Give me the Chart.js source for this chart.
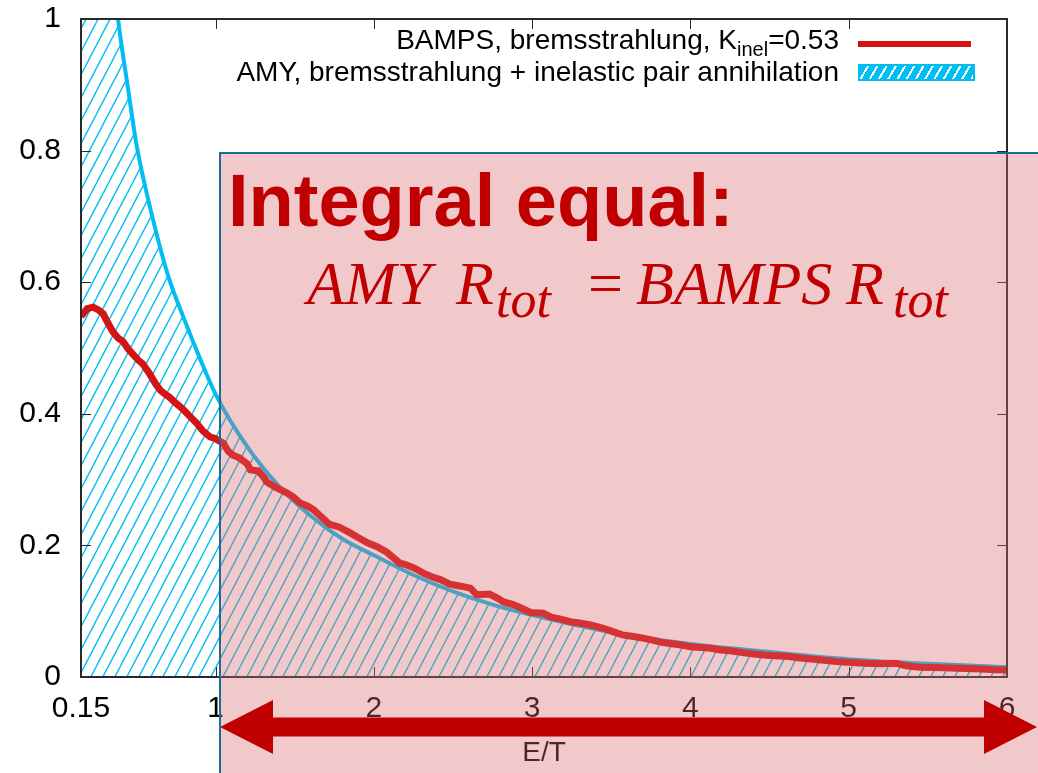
<!DOCTYPE html>
<html>
<head>
<meta charset="utf-8">
<script src="https://cdn.jsdelivr.net/npm/chart.js@4.4.1/dist/chart.umd.min.js"></script>
<style>
html, body { margin: 0; padding: 0; background: #fff; overflow: hidden; }
#wrap { position: relative; width: 1038px; height: 773px; }
#chart { position: absolute; left: 0; top: 0; }
.leg { position: absolute; right: 199px; font-family: "Liberation Sans", Arial, sans-serif; font-size: 28px; line-height: 1; color: #000; white-space: nowrap; }
.leg .sub { font-size: 20px; position: relative; top: 7px; }
.swatch { position: absolute; left: 858px; width: 113px; }
#sw1 { top: 41px; height: 6px; background: #d41414; }
#sw2 { top: 64px; height: 13px; border: 2px solid #00bdf2; background: repeating-linear-gradient(120deg, #00bdf2 0 6px, #fff 6px 8px); }
.big { position: absolute; left: 228px; top: 164px; font-family: "Liberation Sans", Arial, sans-serif; font-weight: bold; font-size: 74px; line-height: 1; color: #c00000; white-space: nowrap; }
.f { position: absolute; font-family: "Liberation Serif", "DejaVu Serif", serif; font-style: italic; font-size: 62px; line-height: 1; color: #c00000; white-space: nowrap; top: 252px; }
.f.s { font-size: 52px; top: 274px; }
.f.eq { font-style: normal; }
</style>
</head>
<body>
<div id="wrap">
  <canvas id="chart" width="1038" height="773"></canvas>
  <div class="leg" style="top:26px">BAMPS, bremsstrahlung, K<span class="sub">inel</span>=0.53</div>
  <div class="leg" style="top:58px">AMY, bremsstrahlung + inelastic pair annihilation</div>
  <div class="swatch" id="sw1"></div>
  <div class="swatch" id="sw2"></div>
  <div class="big">Integral equal:</div>
  <div class="f" style="left:307px">AMY</div>
  <div class="f" style="left:456px">R</div>
  <div class="f s" style="left:496px">tot</div>
  <div class="f eq" style="left:588px">=</div>
  <div class="f" style="left:636px">BAMPS</div>
  <div class="f" style="left:846px">R</div>
  <div class="f s" style="left:893px">tot</div>
</div>
<script>
// AMY curve (bremsstrahlung + inelastic pair annihilation)
const amyX = [0.15, 0.2, 0.25, 0.3, 0.35, 0.384, 0.45, 0.5, 0.6, 0.7, 0.8, 0.9, 1.0, 1.2, 1.4, 1.6, 1.8, 2.0, 2.25, 2.5, 2.75, 3.0, 3.5, 4.0, 4.5, 5.0, 5.5, 6.0];
const amyY = [2.1, 1.68, 1.4, 1.22, 1.08, 1.0, 0.89, 0.81, 0.70, 0.61, 0.545, 0.485, 0.43, 0.35, 0.29, 0.245, 0.21, 0.185, 0.155, 0.13, 0.11, 0.094, 0.068, 0.05, 0.038, 0.027, 0.02, 0.015];

// BAMPS curve (bremsstrahlung, K_inel = 0.53)
const bampsX = [0.15, 0.19, 0.226, 0.26, 0.29, 0.32, 0.35, 0.385, 0.415, 0.45, 0.48, 0.51, 0.54, 0.58, 0.62, 0.65, 0.68, 0.71, 0.75, 0.79,
  0.83, 0.88, 0.92, 0.965, 1.0, 1.05, 1.08, 1.11, 1.15, 1.2, 1.22, 1.27, 1.3, 1.325, 1.38, 1.45, 1.49, 1.53, 1.58, 1.62,
  1.66, 1.72, 1.78, 1.85, 1.9, 1.96, 2.02, 2.08, 2.165, 2.2, 2.26, 2.32, 2.37, 2.42, 2.48, 2.55, 2.61, 2.65, 2.73, 2.78,
  2.82, 2.88, 2.92, 2.99, 3.07, 3.12, 3.18, 3.24, 3.30, 3.37, 3.45, 3.51, 3.57, 3.63, 3.70, 3.76, 3.81, 3.87, 3.93, 4.0,
  4.06, 4.12, 4.19, 4.25, 4.33, 4.4, 4.48, 4.56, 4.62, 4.69, 4.78, 4.86, 4.94, 5.02, 5.1, 5.2, 5.3, 5.36, 5.45, 5.55,
  5.64, 5.74, 5.84, 5.92, 6.0];
const bampsY = [0.548, 0.560, 0.562, 0.558, 0.552, 0.538, 0.525, 0.515, 0.510, 0.498, 0.490, 0.482, 0.476, 0.462, 0.446, 0.436, 0.430, 0.425, 0.416, 0.408,
  0.398, 0.386, 0.374, 0.365, 0.362, 0.355, 0.343, 0.337, 0.333, 0.324, 0.315, 0.313, 0.305, 0.296, 0.288, 0.280, 0.274, 0.265, 0.260, 0.254,
  0.245, 0.232, 0.228, 0.219, 0.212, 0.204, 0.198, 0.190, 0.173, 0.171, 0.165, 0.157, 0.152, 0.148, 0.141, 0.138, 0.135, 0.125, 0.126, 0.120,
  0.114, 0.110, 0.106, 0.098, 0.097, 0.091, 0.088, 0.084, 0.082, 0.079, 0.074, 0.069, 0.064, 0.062, 0.059, 0.056, 0.053, 0.051, 0.049, 0.046,
  0.045, 0.044, 0.041, 0.040, 0.037, 0.035, 0.033, 0.032, 0.031, 0.029, 0.027, 0.025, 0.023, 0.022, 0.021, 0.020, 0.021, 0.017, 0.015, 0.0145,
  0.0137, 0.013, 0.012, 0.011, 0.0105];

const xTicks = [0.15, 1, 2, 3, 4, 5, 6];
const yTicks = [0, 0.2, 0.4, 0.6, 0.8, 1];

// diagonal hatch for the AMY area
function makeHatch(color) {
  const c = document.createElement('canvas');
  c.width = 12; c.height = 23;
  const g = c.getContext('2d');
  g.strokeStyle = color;
  g.lineWidth = 1.4;
  [-12, 0, 12].forEach(o => {
    g.beginPath();
    g.moveTo(o, 23);
    g.lineTo(o + 12, 0);
    g.stroke();
  });
  return g.createPattern(c, 'repeat');
}

// pink box and arrow, in pixels
const box = { left: 220, top: 153 };
const arrow = { x1: 220, x2: 1037, y: 727, head: 53, half: 27, shaft: 9.5 };

const decor = {
  id: 'decor',
  afterDatasetsDraw(chart) {
    const { ctx, chartArea: a, scales: { x, y } } = chart;
    ctx.save();
    ctx.strokeStyle = '#2a2a2a';
    ctx.lineWidth = 1;
    ctx.beginPath();
    x.ticks.forEach(t => {
      const px = Math.round(x.getPixelForValue(t.value)) + 0.5;
      if (px < a.left + 2 || px > a.right - 2) return;
      ctx.moveTo(px, a.bottom); ctx.lineTo(px, a.bottom - 10);
      ctx.moveTo(px, a.top); ctx.lineTo(px, a.top + 10);
    });
    y.ticks.forEach(t => {
      const py = Math.round(y.getPixelForValue(t.value)) + 0.5;
      if (py < a.top + 2 || py > a.bottom - 2) return;
      ctx.moveTo(a.left, py); ctx.lineTo(a.left + 10, py);
      ctx.moveTo(a.right, py); ctx.lineTo(a.right - 10, py);
    });
    ctx.stroke();
    ctx.lineWidth = 2;
    ctx.strokeRect(a.left, a.top, a.right - a.left, a.bottom - a.top);
    ctx.restore();
  },
  afterDraw(chart) {
    const ctx = chart.ctx;
    const W = chart.width, H = chart.height;
    ctx.save();
    ctx.fillStyle = 'rgba(219,105,111,0.36)';
    ctx.fillRect(box.left, box.top, W - box.left + 5, H - box.top + 5);
    ctx.strokeStyle = '#1b6d98';
    ctx.lineWidth = 2;
    ctx.beginPath();
    ctx.moveTo(box.left, H + 5);
    ctx.lineTo(box.left, box.top);
    ctx.lineTo(W + 5, box.top);
    ctx.stroke();

    const { x1, x2, y, head, half, shaft } = arrow;
    ctx.fillStyle = '#c00000';
    ctx.beginPath();
    ctx.moveTo(x1, y);
    ctx.lineTo(x1 + head, y - half);
    ctx.lineTo(x1 + head, y - shaft);
    ctx.lineTo(x2 - head, y - shaft);
    ctx.lineTo(x2 - head, y - half);
    ctx.lineTo(x2, y);
    ctx.lineTo(x2 - head, y + half);
    ctx.lineTo(x2 - head, y + shaft);
    ctx.lineTo(x1 + head, y + shaft);
    ctx.lineTo(x1 + head, y + half);
    ctx.closePath();
    ctx.fill();
    ctx.restore();
  }
};

const tickFont = { family: 'Liberation Sans', size: 30 };

new Chart(document.getElementById('chart'), {
  type: 'scatter',
  data: {
    datasets: [
      {
        label: 'BAMPS, bremsstrahlung, K_inel=0.53',
        data: bampsX.map((v, i) => ({ x: v, y: bampsY[i] })),
        showLine: true,
        borderColor: '#d41414',
        borderWidth: 7,
        pointRadius: 0,
        tension: 0,
        fill: false,
        order: 1
      },
      {
        label: 'AMY, bremsstrahlung + inelastic pair annihilation',
        data: amyX.map((v, i) => ({ x: v, y: amyY[i] })),
        showLine: true,
        borderColor: '#00bdf2',
        borderWidth: 4,
        backgroundColor: makeHatch('#00bdf2'),
        pointRadius: 0,
        cubicInterpolationMode: 'monotone',
        fill: 'origin',
        clip: 0,
        order: 2
      }
    ]
  },
  options: {
    responsive: false,
    animation: false,
    devicePixelRatio: 1,
    layout: { padding: { top: 19, right: 31, left: 0, bottom: 0 } },
    plugins: { legend: { display: false }, tooltip: { enabled: false } },
    scales: {
      x: {
        type: 'linear',
        min: 0.15,
        max: 6,
        afterBuildTicks: s => { s.ticks = xTicks.map(v => ({ value: v })); },
        afterFit: s => { s.height = 96; s.paddingLeft = 0; s.paddingRight = 0; },
        grid: { display: false, drawTicks: false },
        border: { display: false },
        ticks: { font: tickFont, color: '#000', padding: 14, maxRotation: 0, autoSkip: false, callback: v => String(v) },
        title: { display: true, text: 'E/T', font: { family: 'Liberation Sans', size: 28 }, color: '#000', padding: { top: 0, bottom: 3 } }
      },
      y: {
        min: 0,
        max: 1,
        afterBuildTicks: s => { s.ticks = yTicks.map(v => ({ value: v })); },
        afterFit: s => { s.width = 81; s.paddingTop = 0; s.paddingBottom = 0; },
        grid: { display: false, drawTicks: false },
        border: { display: false },
        ticks: { font: tickFont, color: '#000', padding: 20, callback: v => String(v) }
      }
    }
  },
  plugins: [decor]
});
</script>
</body>
</html>
